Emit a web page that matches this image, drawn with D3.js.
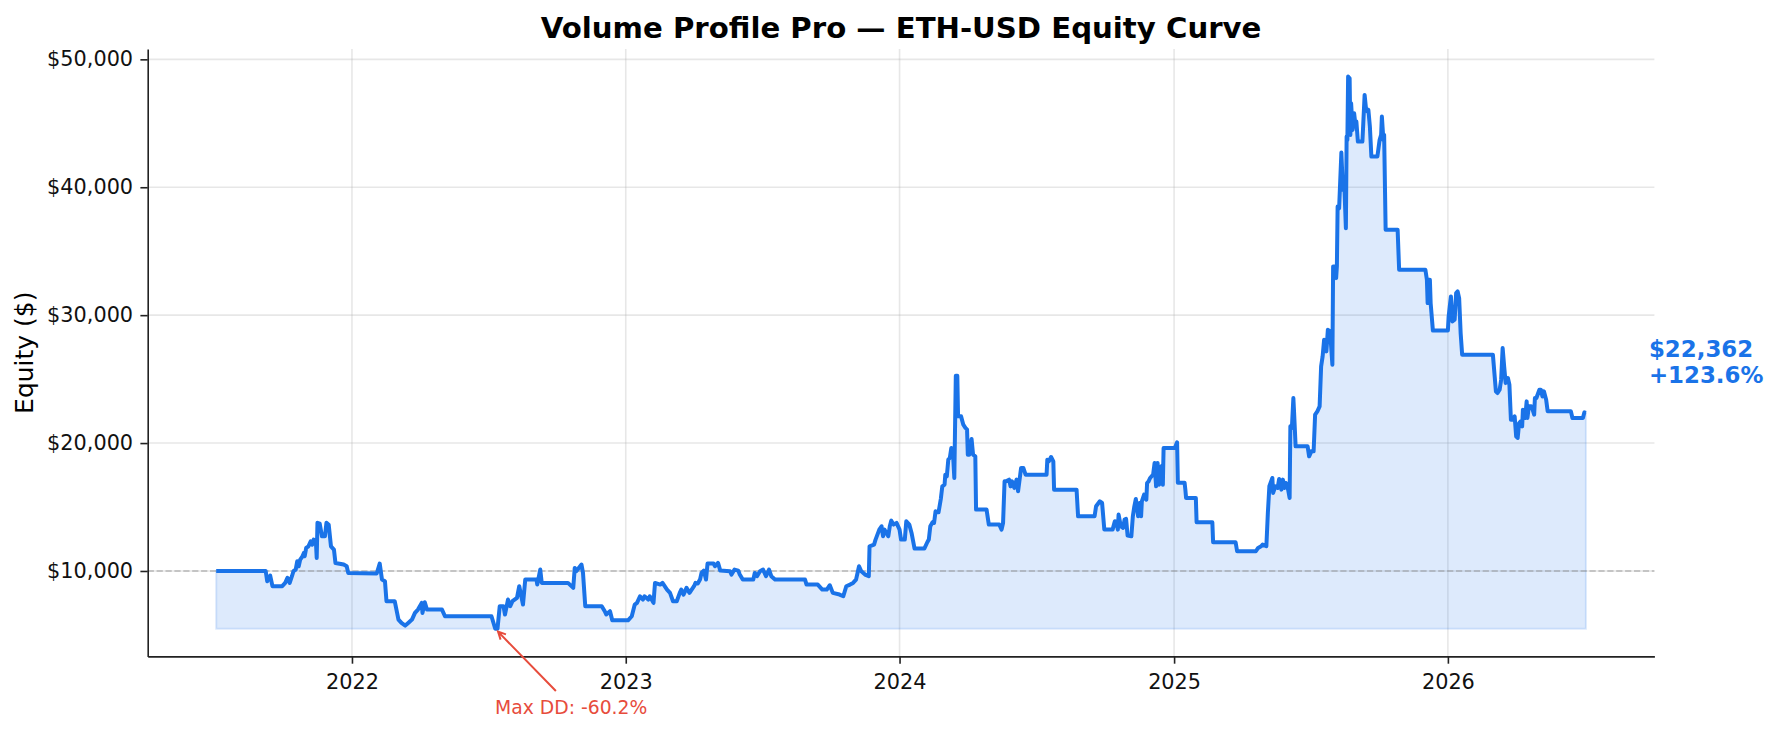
<!DOCTYPE html>
<html>
<head>
<meta charset="utf-8">
<script src="https://cdn.jsdelivr.net/npm/d3@7"></script>
<style>
  body { margin: 0; background: #fff; }
  svg { font-family: "DejaVu Sans", sans-serif; }
</style>
</head>
<body>
<svg id="chart" width="1777" height="732"></svg>
<script>
/*  Data  */
const titleText = "Volume Profile Pro — ETH-USD Equity Curve";
const yLabel = "Equity ($)";
const startCapital = 10000;
const yTicks = [10000, 20000, 30000, 40000, 50000];
const tickYears = ["2022", "2023", "2024", "2025", "2026"];

// each row of dates matches the same row of equity
const dates = [
  "2021-07-04","2021-09-08","2021-09-10","2021-09-14","2021-09-17","2021-09-30","2021-10-04","2021-10-07",
  "2021-10-10","2021-10-13","2021-10-15","2021-10-18","2021-10-20","2021-10-22","2021-10-24","2021-10-27",
  "2021-10-29","2021-10-30","2021-11-01","2021-11-04","2021-11-07","2021-11-09","2021-11-11","2021-11-14",
  "2021-11-15","2021-11-16","2021-11-19","2021-11-22","2021-11-26","2021-11-28","2021-12-01","2021-12-04",
  "2021-12-08","2021-12-10","2021-12-21","2021-12-25","2021-12-27","2022-02-03","2022-02-07","2022-02-10",
  "2022-02-14","2022-02-16","2022-02-27","2022-03-04","2022-03-08","2022-03-13","2022-03-17","2022-03-22",
  "2022-03-26","2022-03-30","2022-04-04","2022-04-05","2022-04-08","2022-04-11","2022-05-01","2022-05-05",
  "2022-07-06","2022-07-11","2022-07-14","2022-07-17","2022-07-22","2022-07-24","2022-07-28","2022-07-31",
  "2022-08-03","2022-08-09","2022-08-12","2022-08-17","2022-08-20","2022-09-04","2022-09-05","2022-09-09",
  "2022-09-11","2022-10-16","2022-10-23","2022-10-25","2022-10-27","2022-11-03","2022-11-05","2022-11-08",
  "2022-11-30","2022-12-04","2022-12-06","2022-12-11","2022-12-14","2023-01-04","2023-01-09","2023-01-13",
  "2023-01-16","2023-01-20","2023-01-22","2023-01-24","2023-01-26","2023-01-31","2023-02-02","2023-02-07",
  "2023-02-09","2023-02-16","2023-02-19","2023-02-25","2023-03-01","2023-03-05","2023-03-10","2023-03-14",
  "2023-03-16","2023-03-19","2023-03-23","2023-03-27","2023-04-02","2023-04-04","2023-04-07","2023-04-10",
  "2023-04-12","2023-04-15","2023-04-18","2023-04-20","2023-04-28","2023-04-30","2023-05-04","2023-05-07",
  "2023-05-20","2023-05-22","2023-05-26","2023-05-31","2023-06-02","2023-06-06","2023-06-20","2023-06-22",
  "2023-06-25","2023-06-29","2023-07-03","2023-07-07","2023-07-11","2023-07-14","2023-07-19","2023-08-28",
  "2023-08-30","2023-09-14","2023-09-20","2023-09-26","2023-09-30","2023-10-04","2023-10-13","2023-10-18",
  "2023-10-22","2023-10-27","2023-10-31","2023-11-04","2023-11-08","2023-11-11","2023-11-16","2023-11-21",
  "2023-11-22","2023-11-28","2023-11-30","2023-12-05","2023-12-08","2023-12-10","2023-12-12","2023-12-17",
  "2023-12-19","2023-12-21","2023-12-24","2023-12-28","2024-01-01","2024-01-03","2024-01-08","2024-01-10",
  "2024-01-14","2024-01-17","2024-01-21","2024-02-03","2024-02-07","2024-02-09","2024-02-11","2024-02-14",
  "2024-02-16","2024-02-18","2024-02-22","2024-02-25","2024-02-27","2024-03-01","2024-03-02","2024-03-04",
  "2024-03-06","2024-03-08","2024-03-10","2024-03-11","2024-03-12","2024-03-14","2024-03-16","2024-03-18",
  "2024-03-19","2024-03-23","2024-03-26","2024-03-29","2024-03-31","2024-04-01","2024-04-03","2024-04-06",
  "2024-04-08","2024-04-11","2024-04-12","2024-04-26","2024-04-29","2024-05-13","2024-05-16","2024-05-18",
  "2024-05-20","2024-05-22","2024-05-26","2024-05-28","2024-05-30","2024-06-02","2024-06-05","2024-06-07",
  "2024-06-09","2024-06-11","2024-06-14","2024-06-17","2024-07-15","2024-07-16","2024-07-18","2024-07-21",
  "2024-07-24","2024-07-25","2024-08-24","2024-08-26","2024-09-17","2024-09-19","2024-09-24","2024-09-27",
  "2024-09-30","2024-10-11","2024-10-14","2024-10-16","2024-10-18","2024-10-19","2024-10-22","2024-10-25",
  "2024-10-27","2024-10-29","2024-10-31","2024-11-05","2024-11-07","2024-11-09","2024-11-11","2024-11-14",
  "2024-11-16","2024-11-18","2024-11-19","2024-11-22","2024-11-25","2024-11-26","2024-11-28","2024-11-30",
  "2024-12-04","2024-12-06","2024-12-08","2024-12-10","2024-12-12","2024-12-13","2024-12-15","2024-12-17",
  "2024-12-18","2025-01-02","2025-01-05","2025-01-06","2025-01-15","2025-01-16","2025-01-17","2025-01-30",
  "2025-01-31","2025-02-21","2025-02-22","2025-03-24","2025-03-26","2025-04-20","2025-04-23","2025-04-27",
  "2025-04-29","2025-05-04","2025-05-06","2025-05-08","2025-05-12","2025-05-13","2025-05-16","2025-05-19",
  "2025-05-21","2025-05-24","2025-05-26","2025-05-28","2025-05-30","2025-06-02","2025-06-04","2025-06-05",
  "2025-06-07","2025-06-09","2025-06-10","2025-06-12","2025-06-28","2025-06-30","2025-07-03","2025-07-06",
  "2025-07-08","2025-07-11","2025-07-14","2025-07-16","2025-07-18","2025-07-20","2025-07-23","2025-07-25",
  "2025-07-28","2025-07-31","2025-08-01","2025-08-03","2025-08-05","2025-08-06","2025-08-07","2025-08-09",
  "2025-08-12","2025-08-14","2025-08-16","2025-08-18","2025-08-19","2025-08-20","2025-08-21","2025-08-23",
  "2025-08-24","2025-08-25","2025-08-27","2025-08-29","2025-08-31","2025-09-01","2025-09-03","2025-09-09",
  "2025-09-10","2025-09-12","2025-09-14","2025-09-16","2025-09-17","2025-09-19","2025-09-21","2025-09-29",
  "2025-10-02","2025-10-04","2025-10-05","2025-10-07","2025-10-08","2025-10-10","2025-10-26","2025-10-28",
  "2025-12-02","2025-12-04","2025-12-05","2025-12-06","2025-12-08","2025-12-09","2025-12-12","2026-01-01",
  "2026-01-02","2026-01-05","2026-01-07","2026-01-10","2026-01-12","2026-01-14","2026-01-16","2026-01-18",
  "2026-01-20","2026-03-02","2026-03-06","2026-03-08","2026-03-11","2026-03-13","2026-03-15","2026-03-17",
  "2026-03-19","2026-03-22","2026-03-24","2026-03-26","2026-03-28","2026-03-31","2026-04-02","2026-04-04",
  "2026-04-06","2026-04-08","2026-04-10","2026-04-11","2026-04-14","2026-04-16","2026-04-17","2026-04-19",
  "2026-04-22","2026-04-24","2026-04-26","2026-04-27","2026-04-29","2026-05-03","2026-05-05","2026-05-07",
  "2026-05-09","2026-05-12","2026-05-14","2026-06-14","2026-06-16","2026-06-30","2026-07-02","2026-07-04"
];

const equity = [
  10000,10000, 9200, 9640, 8810, 8810, 9070, 9460,
   9070, 9590, 9980,10110,10760,10370,10890,11150,
  11410,11150,11800,11930,12320,12060,12450,12200,
  11020,13770,13700,12710,12710,13770,13620,11930,
  11670,10630,10500,10370, 9850, 9800,10580, 9330,
   9200, 7640, 7640, 6200, 5940, 5730, 5940, 6200,
   6720, 6980, 7500, 6720, 7560, 6980, 6980, 6460,
   6460, 5480, 5480, 7245, 7245, 6594, 7766, 7245,
   7635, 7896, 8807, 7375, 9328, 9328, 8938,10109,
   9068, 9068, 8677,10240, 9979,10500, 9849, 7245,
   7245, 6854, 6594, 6854, 6140, 6140, 6460, 7375,
   7505, 8026, 7896, 7766, 8026, 7766, 8026, 7505,
   9068, 8938, 9068, 8547, 8287, 7635, 7635, 8287,
   8547, 8156, 8677, 8287, 8807, 9068, 9016, 9328,
   9849,10031, 9328,10578,10578,10370,10630,10031,
   9979, 9719,10109,10031, 9719, 9328, 9328, 9849,
   9589, 9979,10109, 9589,10109, 9589, 9328, 9328,
   8938, 8938, 8547, 8547, 8885, 8287, 8156, 8026,
   8807, 8938, 9068, 9328,10370, 9979, 9719, 9589,
  11932,12063,12453,13234,13495,12713,13234,12713,
  13495,13937,13625,13755,13234,12453,12453,13885,
  13625,12974,11750,11750,12245,12453,13495,13807,
  13755,14667,14589,15630,16620,16750,17531,17401,
  18703,18833,19615,18963,19484,17271,25266,25266,
  22088,22088,21437,21177,21047,19094,19094,20318,
  19094,18963,14797,14797,13625,13625,13234,13755,
  17010,17010,17141,16620,17010,16490,17141,16229,
  17141,18052,18052,17531,17531,18703,18573,18912,
  18573,16359,16359,14276,14276,15057,15448,15318,
  13234,13234,13885,13807,13234,14406,13495,13365,
  14016,14068,12766,12713,14276,15057,15630,14276,
  15318,14276,15448,15969,15578,16880,17010,17271,
  17531,18443,16620,18443,16750,17922,18182,16750,
  19615,19615,20057,16900,16900,16359,15708,15708,
  13807,13807,12245,12245,11542,11542,11802,11932,
  12063,11932,14536,16620,17271,16099,16620,16490,
  17193,16359,17141,16490,16880,16359,15708,21307,
  21177,23521,22349,19745,19745,18963,19354,19354,
  22219,22479,22870,25995,26776,28078,27166,28859,
  28729,26125,33807,33807,32896,33807,38495,38365,
  42713,39797,40057,36802,43963,43703,48650,48521,
  44094,46568,44484,45787,44745,45135,43573,43573,
  44745,47219,46047,45917,46047,44745,42401,42401,
  43703,44094,45526,43703,44094,36672,36672,33547,
  33547,32766,30943,32766,32766,30943,28800,28800,
  29901,31464,29510,29641,31724,31854,31334,28599,
  26906,26906,24042,23912,24172,24953,27427,25995,
  24693,25083,24563,21828,21828,22088,20526,20396,
  21568,21698,21307,22609,21958,23260,21958,22870,
  22870,22609,22219,23521,23521,24172,24172,23651,
  24042,23391,22479,22479,21958,21958,22401,22362
];

/*  Dimensions  */
const W = 1777, H = 732;
const margin = {top: 49, right: 122.6, bottom: 75.6, left: 147.7},
      width  = W - margin.left - margin.right,
      height = H - margin.top  - margin.bottom;

const blue = "#1a73e8", red = "#e74c3c";

const parse = d3.utcParse("%Y-%m-%d");
const data = dates.map((d, i) => ({date: parse(d), value: equity[i]}));

const root = d3.select("#chart");
const svg = root.append("g")
  .attr("transform", `translate(${margin.left},${margin.top})`);

/* scales with 5% padding like matplotlib */
const [t0, t1] = d3.extent(data, d => d.date);
const tPad = (t1 - t0) * 0.05;
const xScale = d3.scaleUtc()
  .domain([new Date(+t0 - tPad), new Date(+t1 + tPad)])
  .range([0, width]);

const minV = d3.min(data, d => d.value), maxV = d3.max(data, d => d.value);
const vPad = (maxV - minV) * 0.05;
const yScale = d3.scaleLinear()
  .domain([minV - vPad, maxV + vPad])
  .range([height, 0]);

const xTickDates = tickYears.map(y => parse(`${y}-01-01`));

/* ---------- grid ---------- */
svg.append("g").selectAll("line").data(yTicks).join("line")
  .attr("x1", 0).attr("x2", width)
  .attr("y1", d => yScale(d)).attr("y2", d => yScale(d))
  .attr("stroke", "#b0b0b0").attr("stroke-opacity", 0.3).attr("stroke-width", 1.6);

svg.append("g").selectAll("line").data(xTickDates).join("line")
  .attr("x1", d => xScale(d)).attr("x2", d => xScale(d))
  .attr("y1", 0).attr("y2", height)
  .attr("stroke", "#b0b0b0").attr("stroke-opacity", 0.3).attr("stroke-width", 1.6);

/* ---------- fill + lines ---------- */
const areaGen = d3.area()
  .x(d => xScale(d.date))
  .y0(yScale(minV))
  .y1(d => yScale(d.value));

svg.append("path").datum(data)
  .attr("d", areaGen)
  .attr("fill", blue).attr("fill-opacity", 0.15)
  .attr("stroke", blue).attr("stroke-opacity", 0.15).attr("stroke-width", 2);

svg.append("line")
  .attr("x1", 0).attr("x2", width)
  .attr("y1", yScale(startCapital)).attr("y2", yScale(startCapital))
  .attr("stroke", "#808080").attr("stroke-opacity", 0.5)
  .attr("stroke-width", 1.6).attr("stroke-dasharray", "6.2 2.7");

const lineGen = d3.line()
  .x(d => xScale(d.date))
  .y(d => yScale(d.value));

svg.append("path").datum(data)
  .attr("d", lineGen)
  .attr("fill", "none")
  .attr("stroke", blue)
  .attr("stroke-width", 4)
  .attr("stroke-linejoin", "round");

/* ---------- axes ---------- */
const yAxis = d3.axisLeft(yScale)
  .tickValues(yTicks)
  .tickFormat(d3.format("$,.0f"))
  .tickSize(7.3).tickPadding(7.3).tickSizeOuter(0);

const xAxis = d3.axisBottom(xScale)
  .tickValues(xTickDates)
  .tickFormat(d3.utcFormat("%Y"))
  .tickSize(7.3).tickSizeOuter(0);

const gy = svg.append("g").call(yAxis);
const gx = svg.append("g").attr("transform", `translate(0,${height})`).call(xAxis);

[gx, gy].forEach(g => {
  g.attr("font-family", null).attr("font-size", null);
  g.selectAll("path, line").attr("stroke", "#222").attr("stroke-width", 1.6);
  g.selectAll("text").attr("fill", "#111").style("font-size", "20.8px");
});
gx.selectAll("text").attr("y", 32.8).attr("dy", 0);

/* ---------- labels ---------- */
root.append("text")
  .attr("x", margin.left + width / 2).attr("y", 37.5)
  .attr("text-anchor", "middle")
  .style("font-size", "29.2px").style("font-weight", "bold")
  .text(titleText);

root.append("text")
  .attr("transform", `translate(33,${margin.top + height / 2}) rotate(-90)`)
  .attr("text-anchor", "middle")
  .style("font-size", "25px")
  .text(yLabel);

/* ---------- final value annotation ---------- */
const last = data[data.length - 1];
const lx = xScale(last.date) + 63, ly = yScale(last.value);
const finalTxt = svg.append("text")
  .attr("fill", blue).style("font-size", "22.9px").style("font-weight", "bold");
finalTxt.append("tspan").attr("x", lx).attr("y", ly - 56)
  .text(d3.format("$,.0f")(last.value));
finalTxt.append("tspan").attr("x", lx).attr("y", ly - 30)
  .text(`+${((last.value / startCapital - 1) * 100).toFixed(1)}%`);

/* ---------- max drawdown annotation ---------- */
let peak = -Infinity, mdd = 0, mddIdx = 0;
data.forEach((d, i) => {
  peak = Math.max(peak, d.value);
  const dd = d.value / peak - 1;
  if (dd < mdd) { mdd = dd; mddIdx = i; }
});
const pt = data[mddIdx];
const px = xScale(pt.date), py = yScale(pt.value);
const tx = px + 76, ty = py + 78;

svg.append("text")
  .attr("x", tx).attr("y", ty + 6.8)
  .attr("text-anchor", "middle")
  .attr("fill", red)
  .style("font-size", "18.75px")
  .text(`Max DD: ${(mdd * 100).toFixed(1)}%`);

const len = Math.hypot(px - tx, py - ty);
const ux = (px - tx) / len, uy = (py - ty) / len;
const tail = [tx + ux * 22, ty + uy * 22];
const head = [px - ux * 4, py - uy * 4];
const hl = 7.5, hw = 3.75;
svg.append("path")
  .attr("d", `M${tail[0]},${tail[1]}L${head[0]},${head[1]}` +
             `M${head[0] - ux * hl - uy * hw},${head[1] - uy * hl + ux * hw}` +
             `L${head[0]},${head[1]}` +
             `L${head[0] - ux * hl + uy * hw},${head[1] - uy * hl - ux * hw}`)
  .attr("fill", "none")
  .attr("stroke", red)
  .attr("stroke-width", 2);
</script>
</body>
</html>
